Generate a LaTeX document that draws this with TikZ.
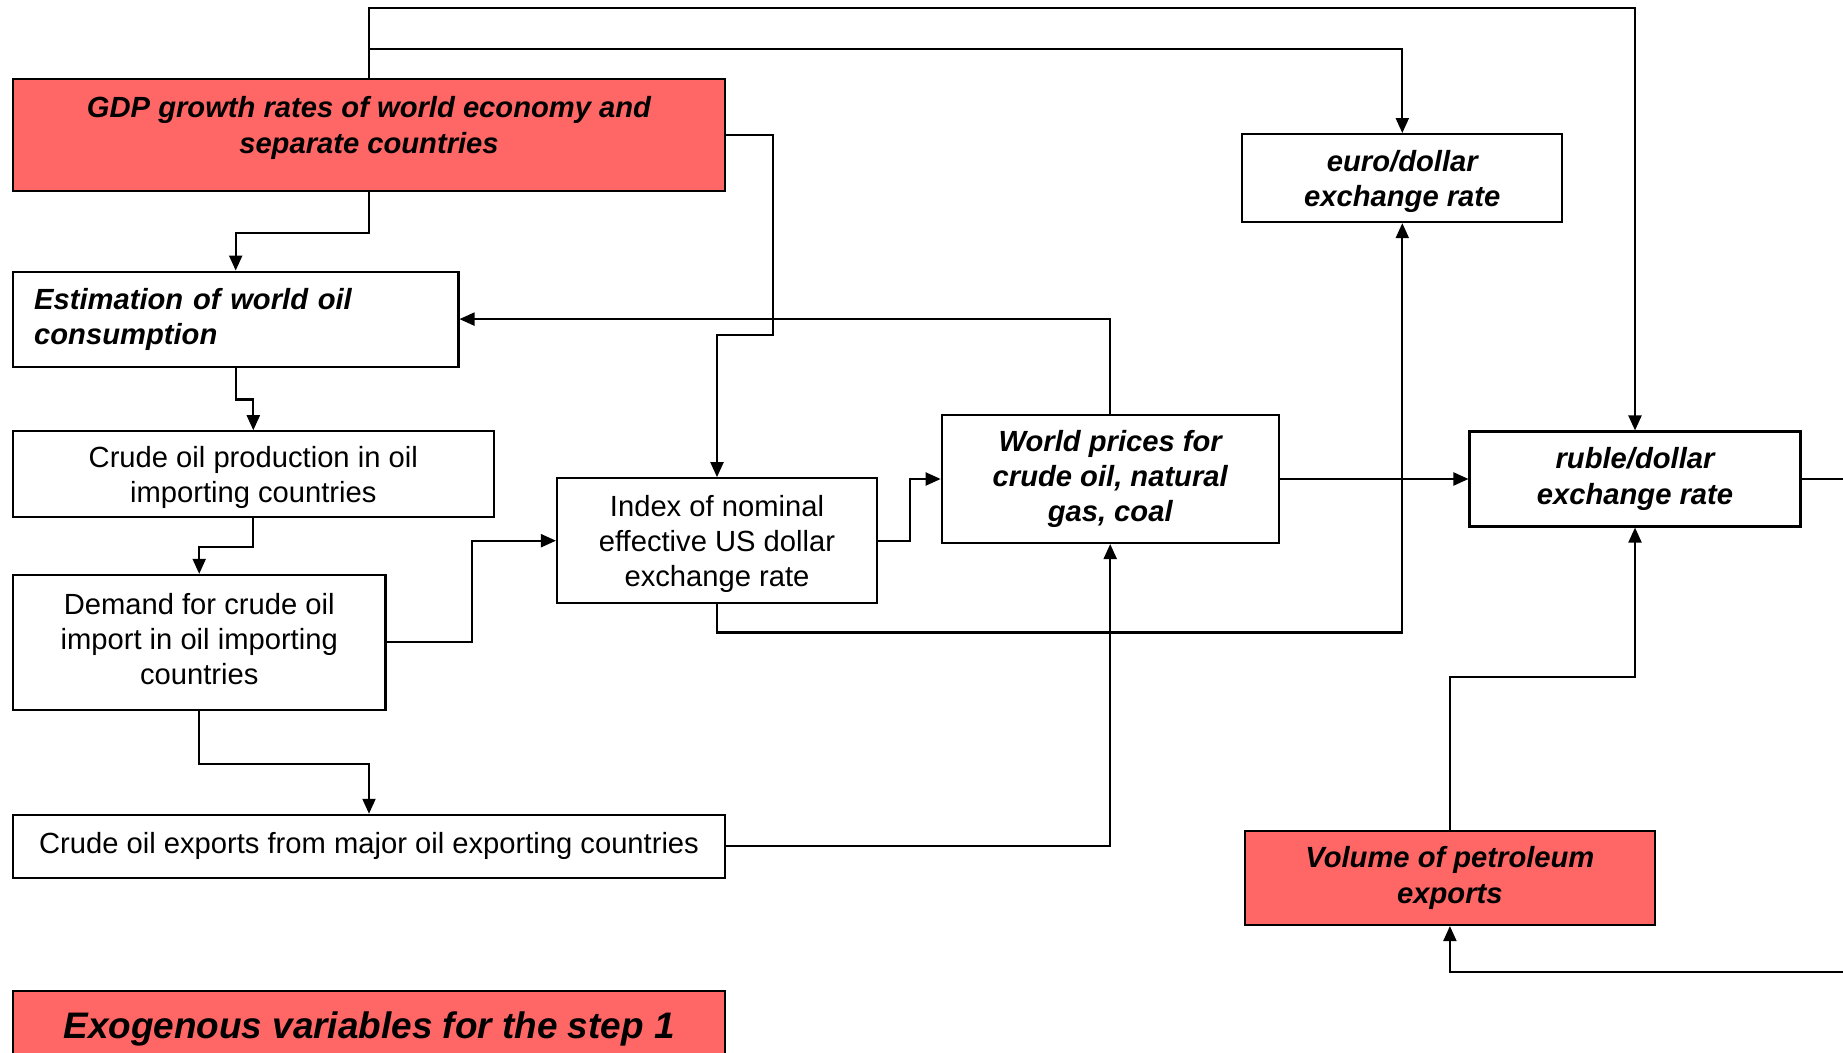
\documentclass[tikz,border=0pt]{standalone}
\usepackage{fontspec}
\setmainfont{Liberation Sans}
\usetikzlibrary{arrows.meta}
\definecolor{exored}{RGB}{255,102,102}

\begin{document}
\begin{tikzpicture}[x=0.1mm, y=-0.1mm, var node/.style={rectangle, draw, line width=0.6pt, inner sep=0pt, align=center, font=\fontsize{8.3}{10}\selectfont}, key node/.style={var node, font=\fontsize{8.3}{10}\selectfont\bfseries\itshape}, exo node/.style={key node, fill=exored}, link/.style={line width=0.6pt, -{Triangle[length=1.5mm, width=1.3mm]}}]

\useasboundingbox (0,0) rectangle (1843,1053);
\clip (0,0) rectangle (1843,1053);

\node[exo node, minimum width=71.2mm, minimum height=11.2mm, text depth=5.5pt] (gdp) at (369,134.6) {GDP growth rates of world economy and\\separate countries};
\node[key node, minimum width=44.55mm, minimum height=9.5mm, text width=40.3mm, align=left] (est) at (235.7,319.1) {Estimation of world oil\\consumption};
\node[var node, minimum width=48.1mm, minimum height=8.6mm, text depth=-0.6pt] (prod) at (253.3,474.3) {Crude oil production in oil\\importing countries};
\node[var node, minimum width=37.26mm, minimum height=13.5mm, text depth=1.8pt] (demand) at (199.2,642.4) {Demand for crude oil\\import in oil importing\\countries};
\node[var node, minimum width=71.2mm, minimum height=6.3mm] (exports) at (369,846.3) {Crude oil exports from major oil exporting countries};
\node[var node, minimum width=32mm, minimum height=12.5mm, text depth=-0.6pt] (index) at (717,540.7) {Index of nominal\\effective US dollar\\exchange rate};
\node[key node, minimum width=33.7mm, minimum height=12.8mm] (world) at (1110.2,479) {World prices for\\crude oil, natural\\gas, coal};
\node[key node, minimum width=32mm, minimum height=8.8mm, text depth=-0.6pt] (euro) at (1402.3,178.1) {euro/dollar\\exchange rate};
\node[key node, minimum width=33.1mm, minimum height=9.5mm] (ruble) at (1635,479) {ruble/dollar\\exchange rate};
\node[exo node, minimum width=41mm, minimum height=9.4mm] (petro) at (1449.9,878) {Volume of petroleum\\exports};
\node[exo node, minimum width=71.2mm, minimum height=6.8mm, text depth=0.2pt, font=\fontsize{10.5}{12}\selectfont\bfseries\itshape] (exo) at (369,1025) {Exogenous variables for the step 1};

\coordinate (offpage) at (1900,972);

\draw[link] (gdp.north) -- ++(0,-69.4) -| (ruble.north);
\draw[link] (gdp.north) ++(0,-28.3) -| (euro.north);
\draw[link] (gdp.east) -| ++(46.8,200) -| (index.north);
\draw[link] (gdp.south) -- ++(0,41) -| (est.north);
\draw[link] (world.north) |- (est.east);
\draw[link] (est.south) -- ++(0,31.8) -| (prod.north);
\draw[link] (prod.south) -- ++(0,28.2) -| (demand.north);
\draw[link] (demand.east) -- ++(85.8,0) |- (index.west);
\draw[link] (demand.south) -- ++(0,52.8) -| (exports.north);
\draw[link] (exports.east) -| (world.south);
\draw[link] (index.east) -- ++(31.7,0) |- (world.west);
\draw[link] (index.south) -- ++(0,28.2) -| (euro.south);
\path[] (world) [link] edge node [] {} (ruble);
\draw[link] (petro.north) -- ++(0,-152.8) -| (ruble.south);
\draw[link] (ruble.east) -| (offpage) -| (petro.south);
\end{tikzpicture}
\end{document}
